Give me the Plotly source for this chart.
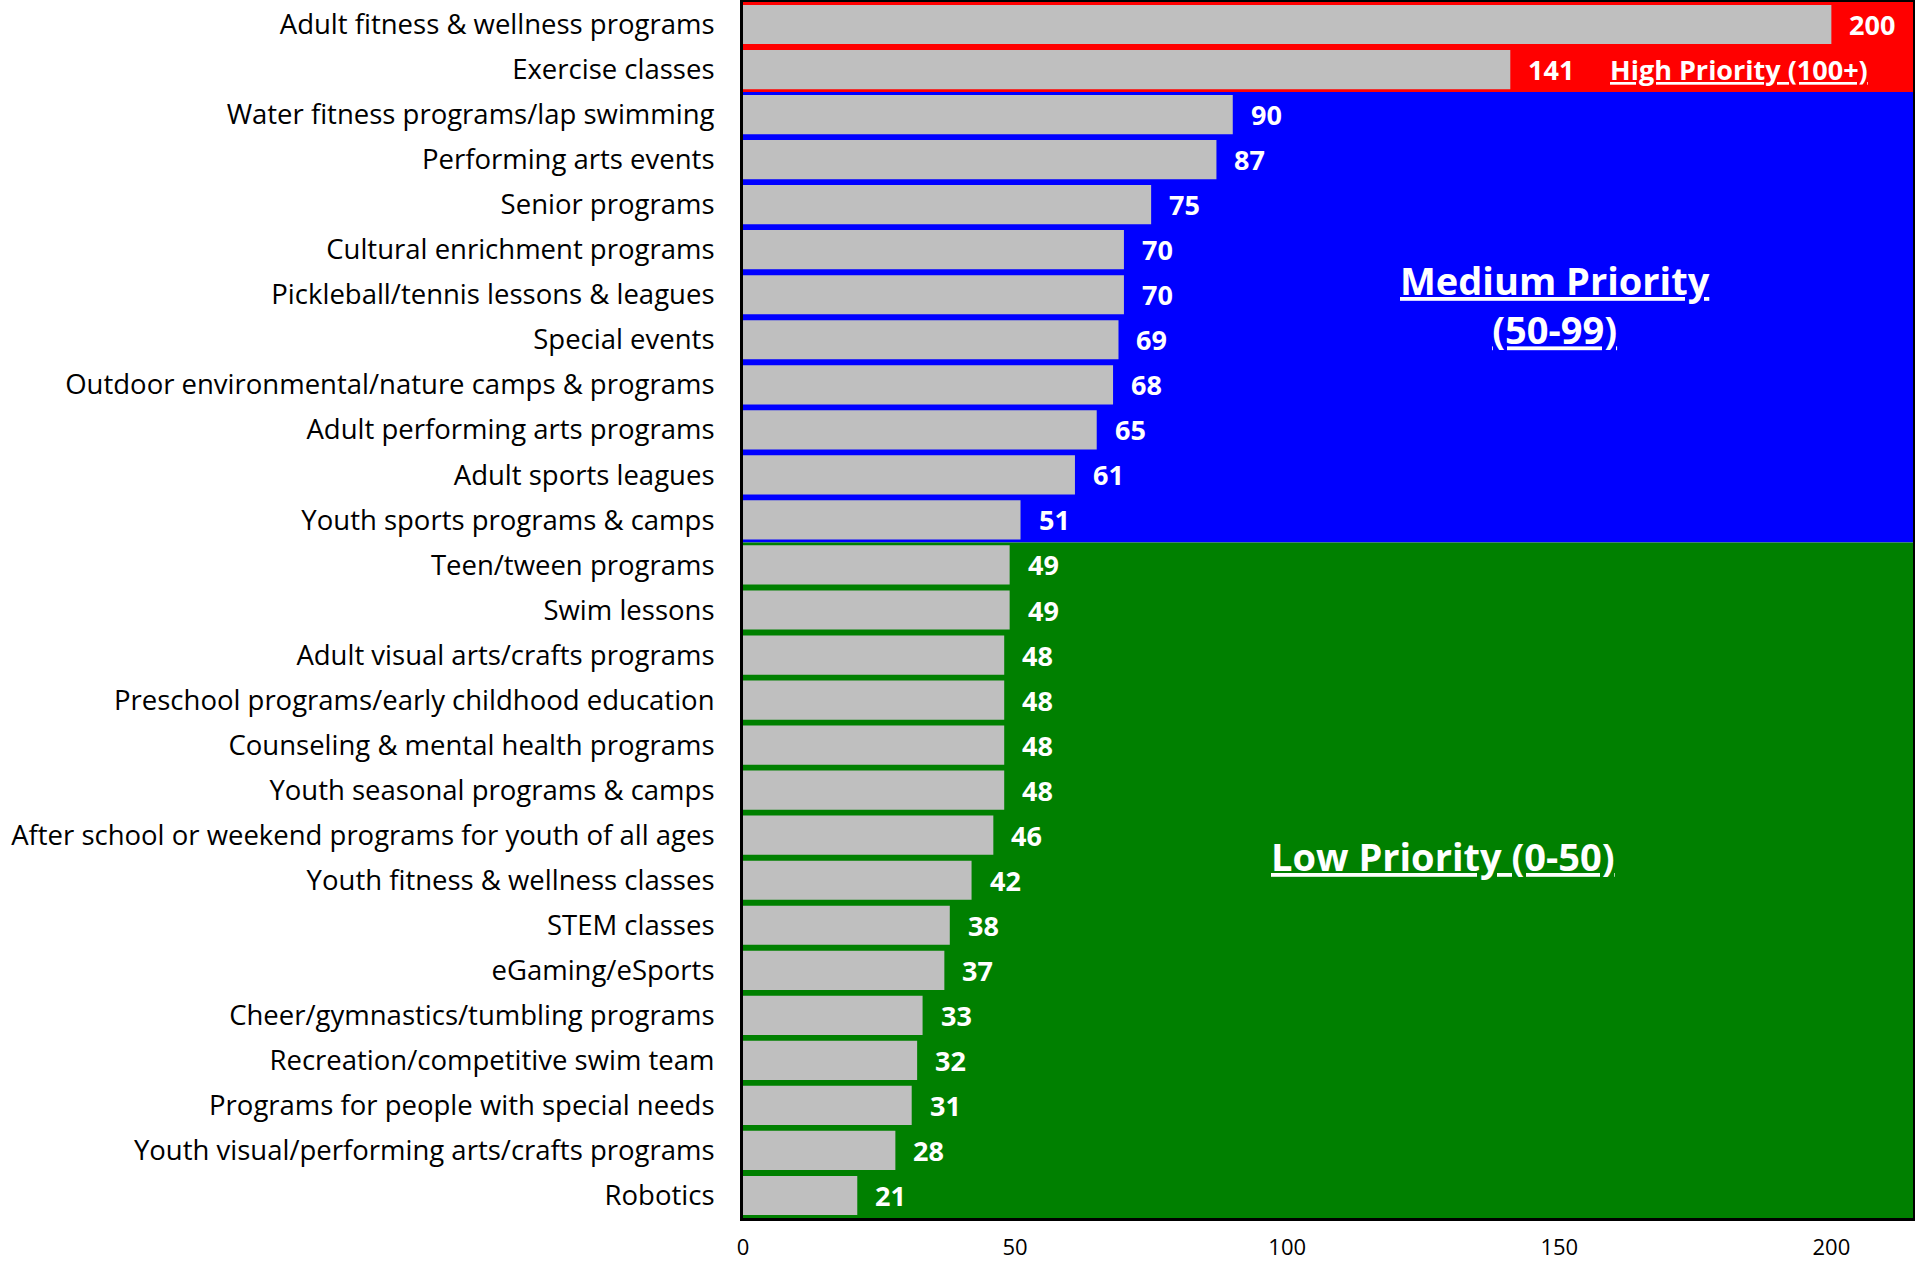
import plotly.graph_objects as go

# Program interest scores, listed top to bottom
programs = [
    "Adult fitness & wellness programs",
    "Exercise classes",
    "Water fitness programs/lap swimming",
    "Performing arts events",
    "Senior programs",
    "Cultural enrichment programs",
    "Pickleball/tennis lessons & leagues",
    "Special events",
    "Outdoor environmental/nature camps & programs",
    "Adult performing arts programs",
    "Adult sports leagues",
    "Youth sports programs & camps",
    "Teen/tween programs",
    "Swim lessons",
    "Adult visual arts/crafts programs",
    "Preschool programs/early childhood education",
    "Counseling & mental health programs",
    "Youth seasonal programs & camps",
    "After school or weekend programs for youth of all ages",
    "Youth fitness & wellness classes",
    "STEM classes",
    "eGaming/eSports",
    "Cheer/gymnastics/tumbling programs",
    "Recreation/competitive swim team",
    "Programs for people with special needs",
    "Youth visual/performing arts/crafts programs",
    "Robotics",
]
scores = [200, 141, 90, 87, 75, 70, 70, 69, 68, 65, 61, 51,
          49, 49, 48, 48, 48, 48, 46, 42, 38, 37, 33, 32, 31, 28, 21]

x_ticks = [0, 50, 100, 150, 200]

# Priority tiers
HIGH_MIN = 100
MEDIUM_MIN = 50
tier_labels = {
    "high": "<u>High Priority (100+)</u>",
    "medium": "<u>Medium Priority</u><br><u>(50-99)</u>",
    "low": "<u>Low Priority (0-50)</u>",
}

FONT = "Open Sans"
n = len(programs)
n_high = sum(1 for v in scores if v >= HIGH_MIN)
n_med = sum(1 for v in scores if v >= MEDIUM_MIN)

fig = go.Figure()
fig.add_trace(go.Bar(
    x=scores,
    y=programs,
    orientation="h",
    marker=dict(color="#BFBFBF", line=dict(width=0)),
    width=0.87,
    hoverinfo="x+y",
))

# Coloured tier bands behind the bars
bands = [
    (-0.5, n_high - 0.5, "#FF0000"),
    (n_high - 0.5, n_med - 0.5, "#0000FF"),
    (n_med - 0.5, n - 0.5, "#008000"),
]
shapes = []
for y0, y1, col in bands:
    shapes.append(dict(type="rect", xref="paper", yref="y", x0=0, x1=1,
                       y0=y0, y1=y1, fillcolor=col, line=dict(width=0),
                       layer="below"))

# Value labels just past each bar end
annotations = []
for p, v in zip(programs, scores):
    annotations.append(dict(
        x=v, y=p, xref="x", yref="y", text=str(v), showarrow=False,
        xanchor="left", yanchor="middle", xshift=16,
        font=dict(family=FONT, size=27, color="white", weight="bold"),
    ))

# Tier captions
annotations += [
    dict(x=183, y=1, xref="x", yref="y", text=tier_labels["high"],
         showarrow=False, xanchor="center", yanchor="middle",
         font=dict(family=FONT, size=27, color="white", weight="bold")),
    dict(x=149.3, y=6.22, xref="x", yref="y", text=tier_labels["medium"],
         showarrow=False, xanchor="center", yanchor="middle",
         font=dict(family=FONT, size=38, color="white", weight="bold")),
    dict(x=128.6, y=18.47, xref="x", yref="y", text=tier_labels["low"],
         showarrow=False, xanchor="center", yanchor="middle",
         font=dict(family=FONT, size=38, color="white", weight="bold")),
]

fig.update_layout(
    width=1915, height=1266,
    margin=dict(l=743, r=2, t=2, b=48, autoexpand=False),
    paper_bgcolor="white",
    plot_bgcolor="white",
    showlegend=False,
    shapes=shapes,
    annotations=annotations,
    bargap=0.13,
    xaxis=dict(
        range=[0, 215], tickvals=x_ticks, showgrid=False, zeroline=False,
        showline=True, linecolor="black", linewidth=3, mirror=True,
        ticks="", ticklabelstandoff=8,
        tickfont=dict(family=FONT, size=22, color="black"),
        fixedrange=True,
    ),
    yaxis=dict(
        type="category", categoryorder="array", categoryarray=programs,
        range=[n - 0.5, -0.5], showgrid=False, zeroline=False,
        showline=True, linecolor="black", linewidth=3, mirror=True,
        ticks="", ticklabelstandoff=20,
        tickfont=dict(family=FONT, size=27.5, color="black"),
        fixedrange=True,
    ),
)

fig.write_html("out.html")
